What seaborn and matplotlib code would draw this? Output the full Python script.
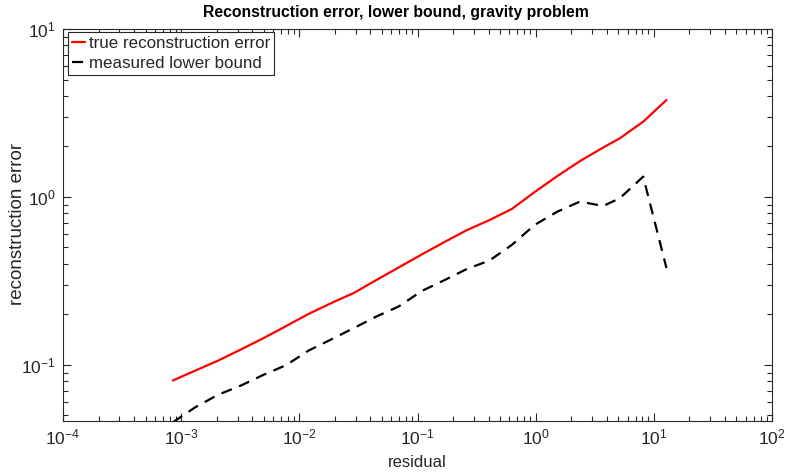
import numpy as np
import pandas as pd
import matplotlib
matplotlib.use("Agg")
import matplotlib.pyplot as plt
import seaborn as sns
from matplotlib.ticker import FixedLocator, LogLocator, NullFormatter

# ---- data ----
residual = [8.51e-4, 1.321e-3, 2.056e-3, 3.192e-3, 4.955e-3, 7.709e-3,
            1.197e-2, 1.858e-2, 2.891e-2, 4.487e-2, 6.966e-2, 0.1084,
            0.1683, 0.2612, 0.4064, 0.6310, 0.9795, 1.524, 2.366, 3.724,
            5.152, 8.128, 12.79]
true_error = [0.0807, 0.0925, 0.106, 0.1233, 0.144, 0.170, 0.201, 0.233,
              0.268, 0.320, 0.381, 0.454, 0.538, 0.634, 0.728, 0.849,
              1.069, 1.331, 1.633, 1.968, 2.234, 2.805, 3.776]
lower_bound = [0.0455, 0.0560, 0.0664, 0.0752, 0.0871, 0.0995, 0.1216,
               0.1416, 0.1656, 0.194, 0.223, 0.275, 0.319, 0.372, 0.418,
               0.519, 0.681, 0.817, 0.938, 0.883, 0.982, 1.321, 0.377]

x_ticks = [1e-4, 1e-3, 1e-2, 1e-1, 1e0, 1e1, 1e2]
y_ticks = [1e-1, 1e0, 1e1]
labels = ["true reconstruction error", "measured lower bound"]
title = "Reconstruction error, lower bound, gravity problem"
xlabel = "residual"
ylabel = "reconstruction error"

df = pd.DataFrame({"residual": residual, "true": true_error, "lower": lower_bound})

sns.set_style("ticks")
plt.rcParams['font.family'] = ['Liberation Sans', 'DejaVu Sans']
plt.rcParams['mathtext.fontset'] = 'custom'
plt.rcParams['mathtext.rm'] = 'Liberation Sans'
plt.rcParams['mathtext.it'] = 'Liberation Sans:italic'
plt.rcParams['mathtext.bf'] = 'Liberation Sans:bold'
plt.rcParams['axes.unicode_minus'] = False
plt.rcParams['axes.edgecolor'] = '0.15'
plt.rcParams['xtick.color'] = '0.15'
plt.rcParams['ytick.color'] = '0.15'

W, H = 790, 474
fig = plt.figure(figsize=(W / 100, H / 100), dpi=100)
ax = fig.add_axes([63 / W, 1 - 421 / H, (772 - 63) / W, (421 - 29) / H])

sns.lineplot(data=df, x="residual", y="true", ax=ax, color="#ff0000",
             lw=1.6, label=labels[0])
sns.lineplot(data=df, x="residual", y="lower", ax=ax, color="black",
             lw=1.6, linestyle=(0, (5.0, 3.5)), label=labels[1])

ax.set_xscale("log")
ax.set_yscale("log")
ax.set_xlim(1e-4, 1e2)
ax.set_ylim(0.0463, 10)

ax.xaxis.set_major_locator(FixedLocator(x_ticks))
ax.yaxis.set_major_locator(FixedLocator(y_ticks))
ax.xaxis.set_minor_locator(LogLocator(base=10, subs=np.arange(2, 10), numticks=20))
ax.yaxis.set_minor_locator(LogLocator(base=10, subs=np.arange(2, 10), numticks=20))
ax.xaxis.set_minor_formatter(NullFormatter())
ax.yaxis.set_minor_formatter(NullFormatter())

ax.tick_params(which="both", direction="in", top=True, right=True,
               labelsize=12.5, labelcolor="0.15", width=0.8)
ax.tick_params(which="major", length=6)
ax.tick_params(which="minor", length=3.5)
ax.tick_params(axis="x", which="major", pad=5)
ax.tick_params(axis="y", which="major", pad=5)
for s in ax.spines.values():
    s.set_visible(True)
    s.set_linewidth(0.8)
    s.set_color("0.15")

ax.set_title(title, fontsize=11.3, fontweight="bold", color="black", pad=8.5,
             x=(396 - 63) / (772 - 63))
ax.set_xlabel(xlabel, fontsize=12, color="0.15", labelpad=5)
ax.set_ylabel(ylabel, fontsize=13.5, color="0.15")
ax.yaxis.set_label_coords(18 / W, 1 - 224 / H, transform=fig.transFigure)
ax.yaxis.label.set_verticalalignment("center")

leg = ax.legend(loc="upper left", bbox_to_anchor=(67.7 / W, 1 - 31.7 / H),
                bbox_transform=fig.transFigure, borderaxespad=0,
                fontsize=12.2, frameon=True, fancybox=False, framealpha=1,
                edgecolor="0.15", borderpad=0.25, labelspacing=0.3,
                handlelength=0.8, handletextpad=0.2)
leg.get_frame().set_linewidth(0.8)

fig.savefig("out.png", dpi=100)
